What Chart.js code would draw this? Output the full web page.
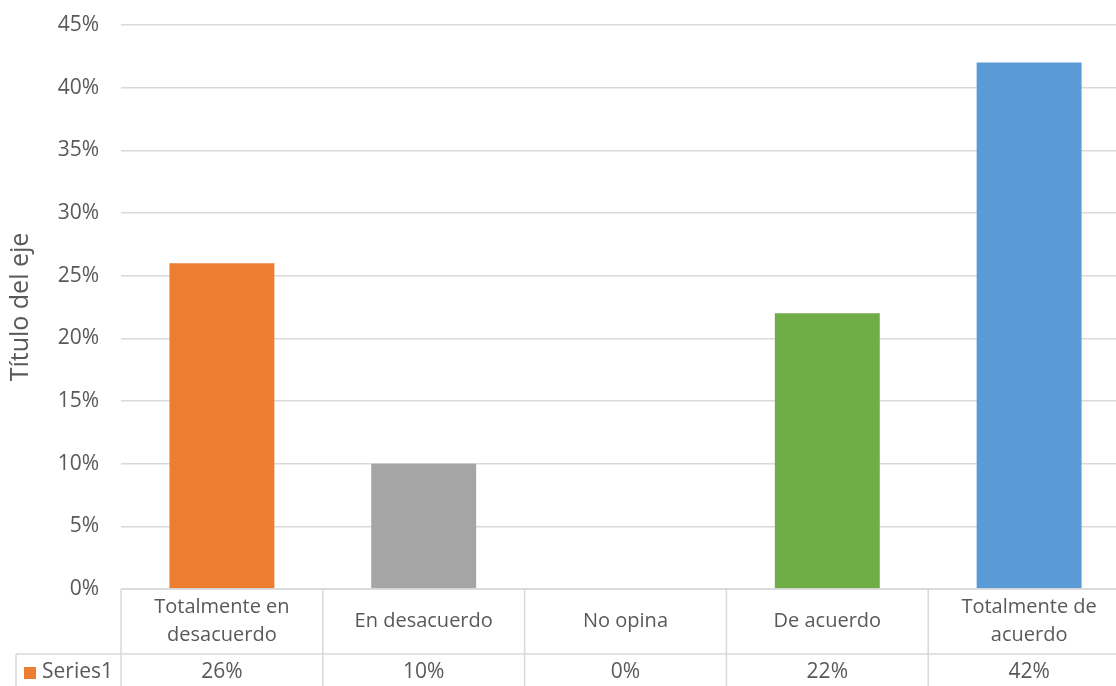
<!DOCTYPE html>
<html>
<head>
<meta charset="utf-8">
<script src="https://cdn.jsdelivr.net/npm/chart.js@4/dist/chart.umd.min.js"></script>
<style>
  html, body { margin: 0; background: #fff; overflow: hidden; }
  #grafico { display: block; }
</style>
</head>
<body>
<!-- el área del gráfico sigue un poco más allá del borde derecho, como en el original -->
<canvas id="grafico" width="1130" height="686"></canvas>
<script>
var categorias = [["Totalmente en", "desacuerdo"], ["En desacuerdo"], ["No opina"], ["De acuerdo"], ["Totalmente de", "acuerdo"]];
var valores = [26, 10, 0, 22, 42];
var colores = ["#ED7D31", "#A5A5A5", "#A5A5A5", "#70AD47", "#5B9BD5"];
var nombreSerie = "Series1";
var tituloEje = "Título del eje";

var fuente = "'Open Sans', 'Noto Sans', sans-serif";
var colorTexto = "#595959";
var colorLinea = "#D9D9D9";
var altoFila1 = 65;

// tabla de datos estilo Excel debajo del eje x
var tablaDatos = {
  id: "tablaDatos",
  afterDraw: function(chart) {
    var ctx = chart.ctx;
    var x = chart.scales.x;
    var area = chart.chartArea;
    var n = categorias.length;
    var ancho = (area.right - area.left) / n;
    var y0 = area.bottom;
    var y1 = y0 + altoFila1;
    var y2 = chart.height;

    ctx.save();
    ctx.strokeStyle = colorLinea;
    ctx.lineWidth = 1.5;
    ctx.beginPath();
    ctx.moveTo(area.left, y0); ctx.lineTo(area.right, y0);
    ctx.moveTo(16, y1); ctx.lineTo(area.right, y1);
    for (var i = 0; i <= n; i++) {
      var xl = area.left + i * ancho;
      ctx.moveTo(xl, y0); ctx.lineTo(xl, y2);
    }
    ctx.moveTo(16, y1); ctx.lineTo(16, y2);
    ctx.stroke();

    ctx.fillStyle = colorTexto;
    ctx.font = "20px " + fuente;
    ctx.textAlign = "center";
    ctx.textBaseline = "middle";
    for (var j = 0; j < n; j++) {
      var cx = x.getPixelForValue(j);
      var lineas = categorias[j];
      var cy = y0 + altoFila1 / 2 - (lineas.length - 1) * 14;
      for (var k = 0; k < lineas.length; k++) {
        ctx.fillText(lineas[k], cx, cy + k * 28);
      }
    }
    ctx.font = "21px " + fuente;
    for (var m = 0; m < n; m++) {
      ctx.fillText(valores[m] + "%", x.getPixelForValue(m), (y1 + y2) / 2 + 2);
    }

    // leyenda de la serie
    ctx.fillStyle = colores[0];
    ctx.fillRect(24, 667, 12, 12);
    ctx.fillStyle = colorTexto;
    ctx.textAlign = "left";
    ctx.fillText(nombreSerie, 42, (y1 + y2) / 2 + 2);
    ctx.restore();
  }
};

var ctxg = document.getElementById("grafico").getContext("2d");
var grafico = new Chart(ctxg, {
  type: "bar",
  data: {
    labels: categorias,
    datasets: [{
      label: nombreSerie,
      data: valores,
      backgroundColor: colores,
      barPercentage: 1,
      categoryPercentage: 0.52
    }]
  },
  options: {
    responsive: false,
    animation: false,
    layout: { padding: { top: 25, right: 0, left: 0, bottom: 0 } },
    plugins: {
      legend: { display: false },
      tooltip: { enabled: false }
    },
    scales: {
      x: {
        grid: { display: false },
        border: { display: false },
        ticks: { display: false },
        afterFit: function(scale) { scale.height = 686 - 589; }
      },
      y: {
        min: 0,
        max: 45,
        ticks: {
          stepSize: 5,
          padding: 22,
          color: colorTexto,
          font: { family: fuente, size: 21 },
          callback: function(v) { return v + "%"; }
        },
        grid: { color: colorLinea, lineWidth: 1.5, drawTicks: false },
        border: { display: false },
        title: {
          display: true,
          text: tituloEje,
          color: colorTexto,
          font: { family: fuente, size: 25 },
          padding: { top: 6, bottom: 0 }
        },
        afterFit: function(scale) {
          scale.width = 121;
          scale.paddingTop = 0;
          scale.paddingBottom = 0;
        }
      }
    }
  },
  plugins: [tablaDatos]
});
</script>
</body>
</html>
